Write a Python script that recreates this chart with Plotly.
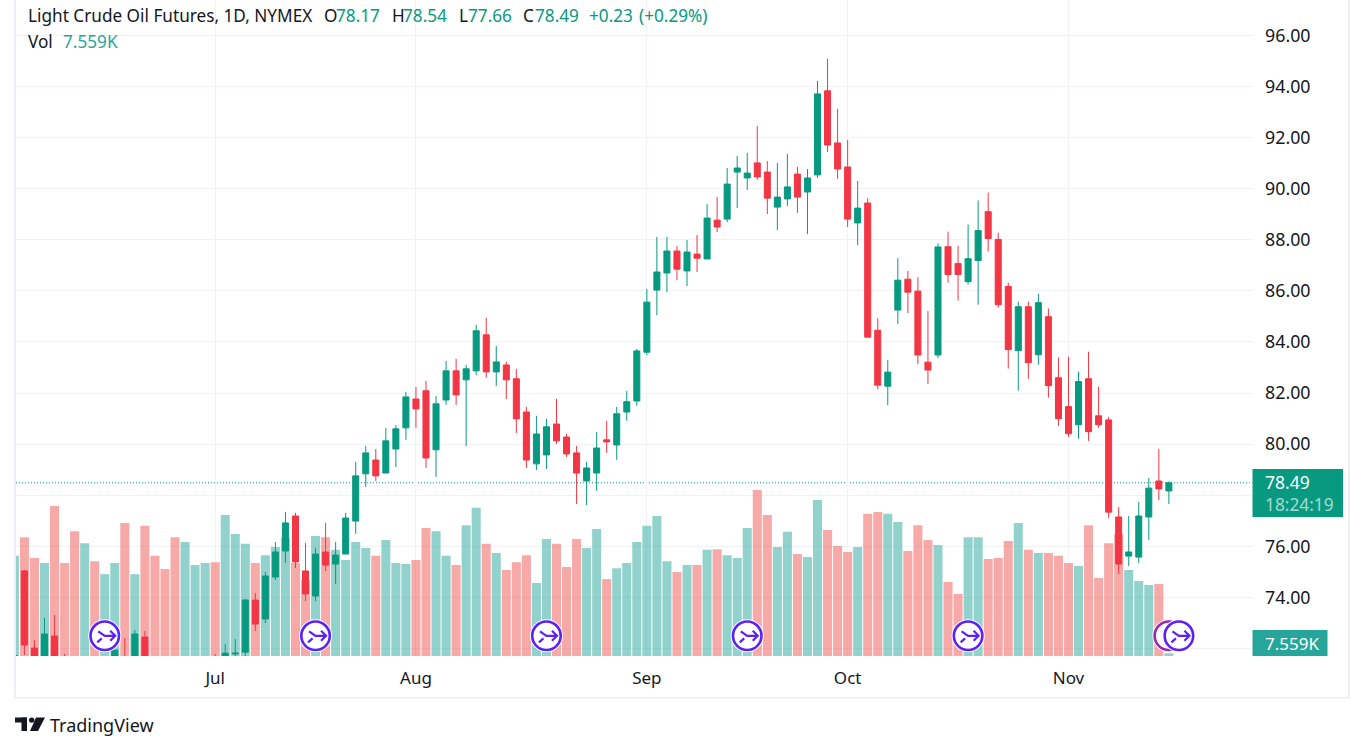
"""Light Crude Oil daily candles with volume, TradingView look."""

import plotly.graph_objects as go

WIDTH = 1351
HEIGHT = 751

UP = "#089981"
DOWN = "#F23645"
VOL_UP = "rgba(38,166,154,0.5)"
VOL_DOWN = "rgba(239,83,80,0.5)"
VOL_SOLID = "#26A69A"
TEXT = "#131722"
GRID = "#F0F2F7"
BORDER = "#EEEFF5"
FONT = "Noto Sans"

bars = list(range(-1, 115))

opens = [
    71.20, 75.04, 72.02, 70.90, 72.49, 71.20, 70.90, 69.80, 70.80, 69.90,
    70.60, 71.50, 70.80, 72.45, 71.20, 70.50, 69.90, 69.20, 70.00, 70.40,
    71.20, 70.60, 71.79, 71.86, 73.90, 73.16, 74.80, 75.82, 77.19, 75.04,
    74.06, 75.78, 75.31, 75.70, 76.99, 78.84, 79.38, 78.87, 79.81, 80.64,
    81.77, 82.09, 79.78, 81.73, 82.87, 82.52, 82.87, 84.28, 82.83, 83.10,
    82.56, 81.26, 79.23, 79.58, 80.79, 80.28, 79.66, 78.56, 78.87, 80.17,
    79.97, 81.26, 81.69, 83.60, 86.03, 86.70, 87.56, 86.78, 87.44, 87.25,
    88.77, 88.81, 90.65, 90.42, 91.01, 90.65, 89.28, 89.60, 90.57, 89.87,
    90.54, 93.83, 91.79, 90.85, 88.66, 89.44, 84.46, 82.27, 85.25, 86.46,
    85.99, 83.21, 83.49, 87.73, 87.07, 86.36, 87.19, 89.10, 88.01, 86.17,
    83.66, 85.38, 83.50, 84.99, 82.60, 81.47, 80.76, 82.56, 81.11, 80.95,
    77.15, 75.62, 75.58, 77.15, 78.56, 78.17,
]
highs = [
    71.73, 75.08, 72.33, 73.20, 73.31, 71.79, 71.50, 71.00, 71.30, 71.30,
    71.94, 72.41, 72.73, 72.69, 71.60, 71.00, 70.70, 70.50, 70.80, 71.20,
    71.79, 72.18, 72.37, 73.94, 74.17, 75.00, 76.17, 77.35, 77.31, 76.13,
    75.94, 76.92, 76.17, 77.31, 79.31, 79.93, 79.81, 80.64, 80.75, 82.05,
    82.24, 82.48, 81.89, 83.26, 83.34, 83.10, 84.67, 84.95, 83.85, 83.22,
    82.95, 81.46, 81.11, 80.99, 81.77, 80.40, 79.93, 79.31, 80.48, 80.91,
    81.46, 82.09, 83.73, 86.07, 88.11, 88.11, 87.75, 87.99, 88.19, 89.40,
    89.67, 90.81, 91.28, 91.40, 92.45, 91.08, 91.01, 91.36, 90.85, 90.77,
    94.22, 95.08, 93.12, 91.91, 90.30, 89.63, 84.93, 83.29, 87.28, 86.78,
    86.54, 85.21, 87.87, 88.32, 87.77, 88.60, 89.54, 89.85, 88.28, 86.32,
    85.58, 85.58, 85.89, 85.31, 83.39, 83.43, 82.84, 83.62, 82.25, 81.07,
    77.54, 77.19, 77.74, 78.68, 79.81, 78.54,
]
lows = [
    71.00, 71.75, 70.90, 70.60, 70.30, 70.00, 69.90, 69.40, 69.60, 69.50,
    70.20, 70.30, 70.50, 70.60, 69.80, 69.30, 69.00, 68.90, 69.60, 70.00,
    69.90, 70.30, 71.30, 71.50, 72.69, 73.00, 74.68, 75.35, 75.15, 73.86,
    73.86, 75.04, 74.53, 75.70, 76.49, 78.33, 78.56, 78.87, 79.11, 80.17,
    80.64, 79.07, 78.72, 81.54, 81.54, 79.93, 82.71, 82.60, 82.28, 81.77,
    80.44, 79.07, 78.99, 79.03, 80.01, 79.50, 77.66, 77.62, 78.17, 79.66,
    79.38, 80.91, 81.50, 83.49, 85.05, 85.95, 86.42, 86.19, 86.74, 87.25,
    88.30, 88.69, 89.24, 89.95, 90.34, 89.01, 88.38, 89.32, 89.05, 88.22,
    90.42, 91.44, 90.38, 88.50, 87.79, 84.19, 82.15, 81.53, 84.70, 85.13,
    83.13, 82.35, 83.37, 86.32, 85.62, 86.25, 85.46, 87.54, 85.34, 82.96,
    82.09, 82.56, 83.11, 81.82, 80.72, 80.29, 80.21, 80.13, 80.64, 77.11,
    74.92, 75.23, 75.35, 76.25, 77.81, 77.66,
]
closes = [
    71.73, 72.14, 71.40, 72.57, 70.70, 70.50, 70.10, 70.60, 69.90, 70.90,
    71.94, 70.70, 72.57, 71.00, 70.20, 69.70, 69.30, 70.10, 70.50, 70.90,
    70.40, 71.82, 71.82, 73.90, 72.96, 74.84, 75.78, 76.92, 75.39, 74.14,
    75.70, 75.27, 75.66, 77.11, 78.76, 79.66, 78.76, 80.13, 80.60, 81.85,
    81.38, 79.46, 81.58, 82.87, 81.93, 82.95, 84.44, 82.83, 83.22, 82.52,
    80.99, 79.38, 80.40, 80.68, 80.13, 79.62, 78.87, 79.07, 79.85, 80.09,
    81.19, 81.66, 83.65, 85.56, 86.74, 87.56, 86.85, 87.52, 87.28, 88.85,
    88.50, 90.18, 90.81, 90.61, 90.46, 89.63, 89.67, 90.07, 89.67, 90.42,
    93.71, 91.71, 90.77, 88.81, 89.24, 84.19, 82.31, 82.82, 86.42, 85.95,
    83.49, 82.90, 87.72, 86.64, 86.64, 87.26, 88.36, 88.05, 85.46, 83.70,
    85.38, 83.19, 85.54, 82.29, 81.00, 80.41, 82.45, 80.49, 80.76, 77.34,
    75.31, 75.78, 77.19, 78.28, 78.25, 78.49,
]
volumes_k = [
    284, 337, 278, 264, 425, 264, 354, 320, 269, 232,
    264, 377, 232, 369, 284, 247, 337, 323, 258, 264,
    266, 400, 346, 318, 264, 286, 309, 335, 264, 215,
    340, 337, 301, 272, 323, 306, 284, 329, 264, 261,
    272, 363, 354, 284, 258, 371, 420, 318, 292, 244,
    266, 286, 207, 332, 318, 252, 332, 306, 360, 218,
    249, 264, 323, 369, 397, 269, 238, 258, 258, 301,
    303, 286, 278, 363, 471, 400, 309, 352, 289, 281,
    442, 357, 312, 295, 309, 403, 408, 403, 380, 298,
    371, 329, 315, 210, 176, 337, 337, 275, 278, 326,
    377, 301, 292, 292, 284, 264, 255, 371, 221, 320,
    346, 244, 213, 201, 204, 7.559,
]

# 72 and 78 keep their grid lines, their labels sit behind the value boxes
price_ticks = [72, 74, 76, 78, 80, 82, 84, 86, 88, 90, 92, 94, 96]
price_labels = ["", "74.00", "76.00", "", "80.00", "82.00", "84.00",
                "86.00", "88.00", "90.00", "92.00", "94.00", "96.00"]
month_bars = [19, 39, 62, 82, 104]
month_labels = ["Jul", "Aug", "Sep", "Oct", "Nov"]

event_bars = [8, 29, 52, 72, 94, 114, 115]
event_colors = ["#5B21F5", "#5B21F5", "#5B21F5", "#5B21F5", "#5B21F5", "#9C27B0", "#5B21F5"]
event_price = 72.5
last_price = 78.49


def px(x):
    return x / WIDTH


def py(y):
    return 1 - y / HEIGHT


def text(x, y, s, color=TEXT, size=17.2, anchor="left"):
    # annotations pad their text by about 2px
    return dict(
        x=px(x - 2), y=py(y), xref="paper", yref="paper", text=s, showarrow=False,
        xanchor=anchor, yanchor="middle", font=dict(family=FONT, size=size, color=color),
    )


def rect(x0, y0, x1, y1, color):
    return dict(
        type="rect", xref="paper", yref="paper", x0=px(x0), x1=px(x1),
        y0=py(y0), y1=py(y1), fillcolor=color, line_width=0, layer="above",
    )


fig = go.Figure()

vol_colors = [VOL_UP if c >= o else VOL_DOWN for o, c in zip(opens, closes)]
fig.add_trace(go.Bar(x=bars, y=volumes_k, marker=dict(color=vol_colors, line_width=0), yaxis="y", xaxis="x"))

fig.add_trace(go.Candlestick(
    x=bars, open=opens, high=highs, low=lows, close=closes, yaxis="y2", xaxis="x",
    increasing=dict(line=dict(color=UP, width=1), fillcolor=UP),
    decreasing=dict(line=dict(color=DOWN, width=1), fillcolor=DOWN),
    whiskerwidth=0,
))

# event badges, white halo first so later ones sit on top of earlier ones
glyphs = []
for bar, color in zip(event_bars, event_colors):
    fig.add_trace(go.Scatter(
        x=[bar], y=[event_price], yaxis="y2", mode="markers", cliponaxis=False,
        marker=dict(size=33, color="white", line_width=0),
    ))
    fig.add_trace(go.Scatter(
        x=[bar], y=[event_price], yaxis="y2", mode="markers", cliponaxis=False,
        marker=dict(size=28.5, color="white", line=dict(color=color, width=2.6)),
    ))
    if bar != 114:
        glyphs.append(dict(
            type="path", xref="x", yref="y2", xsizemode="pixel", ysizemode="pixel",
            xanchor=bar, yanchor=event_price,
            path="M -6.5 4.5 L 0 0 L 10 0 M 5.5 5 L 10.5 0 L 5.5 -5 M -7.5 -6.5 L -3 -2.5",
            line=dict(color=color, width=2.2), layer="above",
        ))

shapes = [
    dict(type="line", xref="paper", yref="y2", x0=px(16), x1=px(1252.5), y0=last_price, y1=last_price,
         line=dict(color=UP, width=1, dash="1px,2px"), layer="below"),
    rect(14, 0, 16, 698.5, BORDER),
    rect(14, 697, 1350, 698.5, BORDER),
    rect(1348, 0, 1350, 698.5, BORDER),
    rect(1252.5, 469, 1343, 517, UP),
    rect(1252.5, 630, 1327.5, 656, VOL_SOLID),
    # TradingView mark
    rect(15, 717.5, 27, 722.5, TEXT),
    rect(21.5, 717.5, 27, 731, TEXT),
    dict(type="circle", xref="paper", yref="paper", x0=px(29), x1=px(34.4), y0=py(717.4), y1=py(722.8),
         fillcolor=TEXT, line_width=0, layer="above"),
    dict(type="path", xref="paper", yref="paper", fillcolor=TEXT, line_width=0, layer="above",
         path=f"M {px(36)} {py(717.5)} L {px(45)} {py(717.5)} L {px(38)} {py(731)} L {px(30)} {py(731)} Z"),
] + glyphs

annotations = [
    text(28, 15, "Light Crude Oil Futures, 1D, NYMEX"),
    text(324, 15, "O"), text(336, 15, "78.17", UP),
    text(392, 15, "H"), text(403, 15, "78.54", UP),
    text(459, 15, "L"), text(468, 15, "77.66", UP),
    text(523, 15, "C"), text(535, 15, "78.49", UP),
    text(589, 15, "+0.23", UP), text(639, 15, "(+0.29%)", UP),
    text(28, 41, "Vol"), text(63, 41, "7.559K", VOL_SOLID),
    text(1265, 482, "78.49", "white", 17.5),
    text(1265, 504, "18:24:19", "rgba(255,255,255,0.65)", 17.3),
    text(1265, 643, "7.559K", "white", 17),
    text(50, 725, "TradingView", TEXT, 18),
]

fig.update_layout(
    width=WIDTH,
    height=HEIGHT,
    margin=dict(l=0, r=0, t=0, b=0),
    paper_bgcolor="white",
    plot_bgcolor="white",
    showlegend=False,
    bargap=0.1,
    boxgap=0.4,
    boxgroupgap=0,
    shapes=shapes,
    annotations=annotations,
    xaxis=dict(
        domain=[px(16), px(1252.5)], range=[-0.84, 122.33], rangeslider_visible=False,
        tickvals=month_bars, ticktext=month_labels, showgrid=True, gridcolor=GRID, gridwidth=1,
        zeroline=False, showline=False, ticks="outside", ticklen=7, tickcolor="rgba(0,0,0,0)",
        tickfont=dict(family=FONT, size=17, color=TEXT),
    ),
    yaxis=dict(domain=[py(656), 1], range=[0, 1860], visible=False, fixedrange=True),
    yaxis2=dict(
        overlaying="y", side="right", anchor="x", range=[71.71, 97.385],
        tickvals=price_ticks, ticktext=price_labels, showgrid=True, gridcolor=GRID, gridwidth=1,
        zeroline=False, showline=False, ticks="outside", ticklen=8, tickcolor="rgba(0,0,0,0)",
        tickfont=dict(family=FONT, size=17.8, color=TEXT),
    ),
)

fig.write_html(
    "out.html",
    config={"displayModeBar": False},
    post_script="document.body.style.margin='0';",
)
